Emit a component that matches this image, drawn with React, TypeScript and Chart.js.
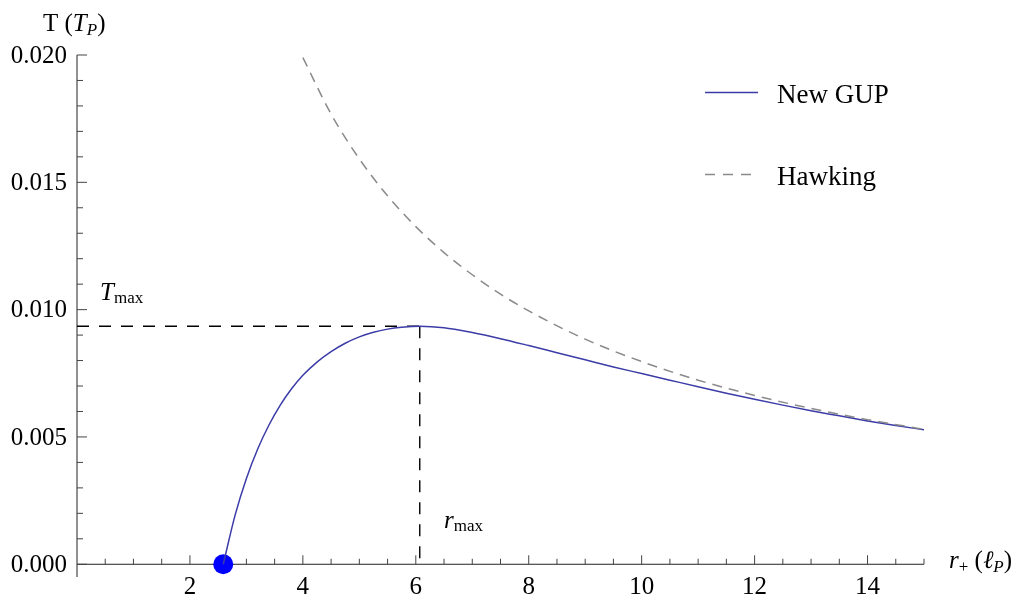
import React, { useEffect, useRef } from "react";
import { Chart, registerables } from "chart.js";

Chart.register(...registerables);

// ---- data ----
const gupR = [2.59, 2.8, 3.0, 3.2, 3.4, 3.6, 3.8, 4.0, 4.25, 4.5, 4.75, 5.0, 5.25, 5.5, 5.75, 6.07, 6.5, 7.0, 7.5, 8.0, 8.5, 9.0, 9.5, 10.0, 10.5, 11.0, 11.5, 12.0, 12.5, 13.0, 13.5, 14.0, 14.5, 15.0];
const gupT = [0, 0.00193, 0.00337, 0.00453, 0.00547, 0.00625, 0.00689, 0.00742, 0.00794, 0.00835, 0.00868, 0.00893, 0.00911, 0.009235, 0.00931, 0.00935, 0.00929, 0.0091, 0.00886, 0.00859, 0.00831, 0.00803, 0.00775, 0.00749, 0.00723, 0.00697, 0.00672, 0.00648, 0.00625, 0.00603, 0.00583, 0.00563, 0.00545, 0.00528];

const hawR = [4, 4.5, 5, 5.5, 6, 6.5, 7, 7.5, 8, 9, 10, 11, 12, 13, 14, 15];
const hawT = [0.0199, 0.01768, 0.01592, 0.01447, 0.01326, 0.01224, 0.01137, 0.01061, 0.00995, 0.00884, 0.00796, 0.00723, 0.00663, 0.00612, 0.00568, 0.0053];

const remnantR = 2.59;
const rMax = 6.07;
const tMax = 0.00935;

const xMajorTicks = [2, 4, 6, 8, 10, 12, 14];
const xTickLabels = ["2", "4", "6", "8", "10", "12", "14"];
const yMajorTicks = [0, 0.005, 0.01, 0.015, 0.02];
const yTickLabels = ["0.000", "0.005", "0.010", "0.015", "0.020"];
const seriesNames = ["New GUP", "Hawking"];

const SERIF = '"Liberation Serif", "Times New Roman", serif';
const BLUE = "#3c3ca8";
const GRAY = "#8a8a8a";

export default function App() {
  const ref = useRef<HTMLCanvasElement>(null);

  useEffect(() => {
    document.body.style.margin = "0";
    const canvas = ref.current;
    if (!canvas) return;
    const ctx = canvas.getContext("2d");
    if (!ctx) return;

    const axesPlugin = {
      id: "mmaAxes",
      beforeDatasetsDraw(chart: any) {
        const c = chart.ctx as CanvasRenderingContext2D;
        const xs = chart.scales.x;
        const ys = chart.scales.y;
        const x0 = xs.getPixelForValue(0);
        const y0 = ys.getPixelForValue(0);
        c.save();
        c.strokeStyle = "#222";
        c.lineWidth = 1;
        c.beginPath();
        c.moveTo(x0, ys.getPixelForValue(ys.min));
        c.lineTo(x0, ys.getPixelForValue(0.02));
        c.moveTo(x0, y0);
        c.lineTo(xs.getPixelForValue(15), y0);
        c.stroke();
        c.strokeStyle = "#444";
        c.beginPath();
        for (let k = 1; k <= 30; k++) {
          const v = k * 0.5;
          const major = xMajorTicks.includes(v);
          const px = xs.getPixelForValue(v);
          c.moveTo(px, y0);
          c.lineTo(px, y0 - (major ? 9 : 5.5));
        }
        for (let k = 0; k <= 20; k++) {
          const v = k * 0.001;
          const major = k % 5 === 0;
          const py = ys.getPixelForValue(v);
          c.moveTo(x0, py);
          c.lineTo(x0 + (major ? 10 : 6), py);
        }
        c.stroke();
        c.fillStyle = "#000";
        c.font = `25px ${SERIF}`;
        c.textAlign = "center";
        c.textBaseline = "alphabetic";
        xMajorTicks.forEach((v, i) => {
          c.fillText(xTickLabels[i], xs.getPixelForValue(v), 594);
        });
        c.textAlign = "right";
        c.textBaseline = "middle";
        yMajorTicks.forEach((v, i) => {
          c.fillText(yTickLabels[i], x0 - 10, ys.getPixelForValue(v) + 1);
        });
        c.restore();
      },
      afterDatasetsDraw(chart: any) {
        const c = chart.ctx as CanvasRenderingContext2D;
        c.save();
        c.fillStyle = "#000";
        c.textAlign = "left";
        c.textBaseline = "alphabetic";
        const seq = (parts: [string, string, number][], x: number, y: number) => {
          let cx = x;
          for (const [txt, font, dy] of parts) {
            c.font = font;
            c.fillText(txt, cx, y + dy);
            cx += c.measureText(txt).width;
          }
        };
        const R = `25px ${SERIF}`;
        const I = `italic 25px ${SERIF}`;
        const RS = `17px ${SERIF}`;
        const IS = `italic 17px ${SERIF}`;
        seq([["T (", R, 0], ["T", I, 0], ["P", IS, 4], [")", R, 0]], 43, 31);
        seq([["r", I, 0], ["+", RS, 4], [" (", R, 0], ["\u2113", I, 0], ["P", IS, 4], [")", R, 0]], 949, 568);
        seq([["T", I, 0], ["max", RS, 3]], 100, 300);
        seq([["r", I, 0], ["max", RS, 3]], 444, 528);
        c.lineWidth = 1.5;
        c.strokeStyle = BLUE;
        c.beginPath();
        c.moveTo(705, 92.5);
        c.lineTo(758, 92.5);
        c.stroke();
        c.strokeStyle = GRAY;
        c.setLineDash([10, 8]);
        c.beginPath();
        c.moveTo(705, 174.5);
        c.lineTo(758, 174.5);
        c.stroke();
        c.setLineDash([]);
        c.font = `27px ${SERIF}`;
        c.fillText(seriesNames[0], 777, 103);
        c.fillText(seriesNames[1], 777, 185);
        c.restore();
      },
    };

    const pts = (xs: number[], ys: number[]) => xs.map((x, i) => ({ x, y: ys[i] }));

    const chart = new Chart(ctx, {
      type: "scatter",
      data: {
        datasets: [
          {
            label: seriesNames[1],
            data: pts(hawR, hawT),
            showLine: true,
            borderColor: GRAY,
            borderWidth: 1.5,
            borderDash: [10, 7],
            pointRadius: 0,
            cubicInterpolationMode: "monotone",
            fill: false,
          },
          {
            label: seriesNames[0],
            data: pts(gupR, gupT),
            showLine: true,
            borderColor: BLUE,
            borderWidth: 1.5,
            pointRadius: 0,
            cubicInterpolationMode: "monotone",
            fill: false,
          },
          {
            label: "Tmax",
            data: [{ x: 0, y: tMax }, { x: rMax, y: tMax }],
            showLine: true,
            borderColor: "#000",
            borderWidth: 1.4,
            borderDash: [12, 10],
            pointRadius: 0,
          },
          {
            label: "rmax",
            data: [{ x: rMax, y: tMax }, { x: rMax, y: 0 }],
            showLine: true,
            borderColor: "#000",
            borderWidth: 1.4,
            borderDash: [12, 10],
            pointRadius: 0,
          },
          {
            label: "remnant",
            data: [{ x: remnantR, y: 0 }],
            showLine: false,
            pointRadius: 10,
            pointBackgroundColor: "#0000ff",
            pointBorderWidth: 0,
            clip: false,
          } as any,
        ],
      },
      options: {
        animation: false,
        responsive: false,
        events: [],
        layout: { padding: { left: 77, right: 91, top: 55, bottom: 21 } },
        scales: {
          x: { type: "linear", min: 0, max: 15, display: false },
          y: { type: "linear", min: -0.0005, max: 0.02, display: false },
        },
        plugins: { legend: { display: false }, tooltip: { enabled: false } },
      },
      plugins: [axesPlugin],
    });

    return () => chart.destroy();
  }, []);

  return (
    <div style={{ width: 1015, height: 598, position: "relative" }}>
      <canvas ref={ref} width={1015} height={598} style={{ display: "block" }} />
    </div>
  );
}
